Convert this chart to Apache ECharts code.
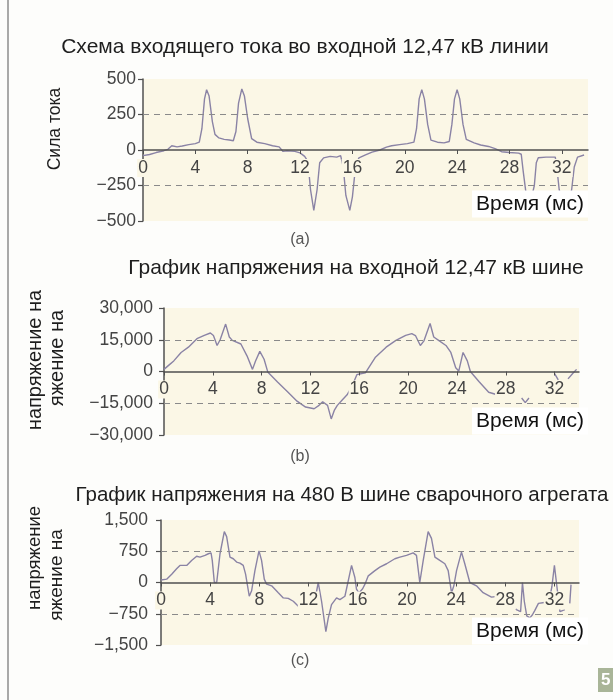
<!DOCTYPE html>
<html>
<head>
<meta charset="utf-8">
<script src="https://cdn.jsdelivr.net/npm/echarts@6/dist/echarts.min.js"></script>
<style>
  html, body { margin: 0; padding: 0; background: #fdfdfb; }
  #chart { width: 613px; height: 700px; }
</style>
</head>
<body>
<div id="chart"></div>
<script>
// Time ticks (ms) shared by all three panels
const timeTicks = [0, 4, 8, 12, 16, 20, 24, 28, 32];

// (a) Incoming line current, A  — [time ms, current]
const currentData = [
  [0,-40],[0.5,-32],[1.0,-18],[1.6,-5],[1.9,5],[2.2,30],[2.6,22],[3.0,28],[3.5,38],[4.0,45],
  [4.3,55],[4.5,150],[4.7,360],[4.86,425],[5.05,380],[5.3,200],[5.5,110],[5.8,85],[6.2,75],
  [6.6,70],[6.9,65],[7.1,130],[7.3,330],[7.55,430],[7.75,380],[8.0,220],[8.3,80],[8.7,55],
  [9.3,45],[9.9,30],[10.4,22],[10.7,-10],[11.0,-5],[11.6,-10],[12.0,-20],[12.35,-45],
  [12.6,-80],[12.8,-280],[13.05,-425],[13.3,-280],[13.5,-90],[13.8,-55],[14.3,-45],[14.8,-50],
  [15.1,-40],[15.3,-120],[15.5,-320],[15.8,-425],[16.0,-330],[16.25,-110],[16.5,-55],
  [17.0,-35],[17.5,-15],[18.1,0],[18.6,20],[19.0,30],[19.6,38],[20.2,45],[20.7,55],
  [20.9,150],[21.1,360],[21.3,425],[21.5,360],[21.75,180],[22.0,70],[22.5,55],[23.0,50],
  [23.4,60],[23.6,180],[23.8,360],[24.0,425],[24.2,360],[24.45,180],[24.7,75],[25.3,50],
  [25.8,35],[26.4,25],[26.9,10],[27.4,-12],[28.0,-18],[28.7,-22],[28.9,-30],[29.05,-150],
  [29.3,-330],[29.5,-420],[29.7,-330],[29.9,-250],[30.05,-90],[30.2,-55],[30.8,-50],
  [31.5,-50],[31.65,-150],[31.8,-280],[32.2,-420],[32.5,-380],[32.75,-280],[32.95,-120],
  [33.2,-50],[33.7,-35]
];

// (b) 12.47 kV bus voltage, V
const busVoltageData = [
  [0,1000],[0.4,3000],[0.8,5000],[1.4,9000],[2.0,11500],[2.7,15500],[3.3,17100],[3.8,18200],
  [4.05,17000],[4.35,12300],[4.6,15000],[5.05,22400],[5.35,16300],[5.6,14700],[6.3,13000],
  [6.8,7400],[7.25,1000],[7.5,5000],[7.85,9500],[8.2,5800],[8.5,-200],[9.3,-5000],
  [10.1,-9500],[10.9,-14000],[11.6,-16800],[12.3,-17600],[12.7,-16000],[13.0,-14300],
  [13.4,-16000],[13.7,-22400],[13.95,-18400],[14.2,-16000],[14.6,-13500],[15.0,-11000],
  [15.4,-7000],[15.8,-1500],[16.5,-600],[17.3,6600],[18.2,11500],[19.0,14700],[19.8,17100],
  [20.3,17900],[20.6,17000],[21.0,12300],[21.3,14500],[21.8,22700],[22.1,16300],[22.5,14700],
  [23.1,12300],[23.5,9000],[23.9,1800],[24.15,200],[24.5,9000],[24.85,5000],[25.1,0],
  [25.8,-4700],[26.6,-9800],[27.3,-11000],[27.5,null],
  [29.3,-12500],[29.6,-14700],[29.9,-12500],[30.1,null],
  [32.0,-1000],[32.3,-4000],[32.5,null],
  [33.1,-3500],[33.5,-800],[33.8,1000]
];

// (c) 480 V welder bus voltage, V
const weldVoltageData = [
  [0,60],[0.46,80],[0.87,200],[1.27,330],[1.54,410],[2.09,410],[2.49,530],[2.9,630],[3.17,610],
  [3.58,650],[3.85,690],[4.07,710],[4.17,530],[4.34,0],[4.53,0],[4.8,690],[5.15,1220],
  [5.34,1100],[5.61,610],[5.88,570],[6.15,490],[6.42,465],[6.69,410],[6.88,200],[7.18,-330],
  [7.37,-200],[7.64,285],[7.97,760],[8.18,530],[8.4,80],[8.59,-40],[9.0,-80],[9.54,-245],
  [9.95,-370],[10.35,-380],[10.76,-450],[11.17,-570],[11.57,-530],[12.3,-500],[12.6,-300],
  [12.79,0],[13.06,-450],[13.41,-1180],[13.6,-860],[13.87,-530],[14.28,-370],[14.55,-410],
  [14.96,-330],[15.23,40],[15.5,410],[15.77,120],[15.9,-160],[16.1,-250],[16.4,-150],
  [16.59,-40],[16.86,160],[17.4,285],[17.8,370],[18.35,450],[19.02,570],[19.43,610],
  [19.97,650],[20.51,710],[20.78,650],[21.05,0],[21.33,530],[21.73,1220],[22.0,1060],
  [22.28,610],[22.68,530],[23.09,450],[23.36,285],[23.63,-245],[23.82,-80],[24.04,285],
  [24.44,730],[24.71,450],[25.12,0],[25.66,-80],[26.2,-245],[26.88,-350],[27.43,-330],
  [28.2,-450],[28.9,-650],[29.25,-700],[29.4,0],[29.55,-450],[29.75,-800],[30.0,-850],
  [30.2,-780],[30.4,-675],[30.7,-500],[31.2,-480],[31.6,-400],[31.8,-90],[32.0,410],
  [32.2,-90],[32.45,-700],[32.85,-650],[33.0,null],[33.25,-500],[33.35,-50]
];

const panelTitles = [
  'Схема входящего тока во входной 12,47 кВ линии',
  'График напряжения на входной 12,47 кВ шине',
  'График напряжения на 480 В шине сварочного агрегата'
];
const panelTags = ['(a)', '(b)', '(c)'];
const timeName = 'Время (мс)';

const traceColor = '#8a83a5';
const axisColor = '#505050';
const labelColor = '#444';
const plotBg = '#fbf7e6';
const font = '"Liberation Sans", Arial, sans-serif';

function fmt(v, sep) {
  const s = Math.abs(v).toString();
  const body = sep ? s.replace(/\B(?=(\d{3})+(?!\d))/g, ',') : s;
  return v < 0 ? '\u2212' + body : body;
}

const grids = [
  { left: 143, top: 79, width: 445, height: 142 },
  { left: 164, top: 308, width: 415, height: 127 },
  { left: 161, top: 520, width: 418, height: 125 }
];
const yRanges = [
  { max: 500, interval: 250, sep: false, margin: 7 },
  { max: 30000, interval: 15000, sep: true, margin: 11 },
  { max: 1500, interval: 750, sep: true, margin: 13 }
];
const datasets = [currentData, busVoltageData, weldVoltageData];

const option = {
  backgroundColor: '#fdfdfb',
  animation: false,
  grid: grids.map(g => Object.assign({ show: true, backgroundColor: plotBg, borderWidth: 0 }, g)),
  // time axis drawn through the zero level (middle of each symmetric plot)
  xAxis: grids.map((g, i) => ({
    type: 'value', gridIndex: i, min: 0, max: 34, interval: 4, z: 5,
    position: 'bottom', offset: -g.height / 2,
    axisLine: { onZero: false, lineStyle: { color: axisColor, width: 1.5 } },
    axisTick: { show: true, customValues: timeTicks, length: 4, lineStyle: { color: axisColor } },
    axisLabel: {
      customValues: timeTicks, margin: 9, fontSize: 17.5, color: labelColor, fontFamily: font,
      backgroundColor: plotBg, padding: [0, 1]
    },
    splitLine: { show: false }
  })),
  yAxis: yRanges.map((r, i) => ({
    type: 'value', gridIndex: i, min: -r.max, max: r.max, interval: r.interval,
    axisLine: { show: true, onZero: false, lineStyle: { color: axisColor, width: 1.5 } },
    axisTick: { show: true, length: 5, lineStyle: { color: axisColor, width: 1.2 } },
    axisLabel: { margin: r.margin, fontSize: 17.5, color: labelColor, fontFamily: font,
      formatter: v => fmt(v, r.sep) },
    splitLine: { show: false }
  })),
  series: datasets.map((d, i) => ({
    type: 'line', xAxisIndex: i, yAxisIndex: i, data: d,
    showSymbol: false, connectNulls: false,
    lineStyle: { color: traceColor, width: 1.4 },
    markLine: {
      silent: true, symbol: 'none', label: { show: false },
      lineStyle: { color: '#8a8a8a', type: [6, 5], width: 1.2 },
      data: [{ yAxis: yRanges[i].interval }, { yAxis: -yRanges[i].interval }]
    }
  })),
  graphic: [
    // page edge rule
    { type: 'line', z: 50, shape: { x1: 8, y1: 0, x2: 8, y2: 700 }, style: { stroke: '#8c8c8c', lineWidth: 1.5 } },
    // titles
    { type: 'text', z: 50, style: { text: panelTitles[0], x: 305, y: 47, align: 'center', verticalAlign: 'middle', fontSize: 21, fill: '#1e1e1e', fontFamily: font } },
    { type: 'text', z: 50, style: { text: panelTitles[1], x: 356, y: 268, align: 'center', verticalAlign: 'middle', fontSize: 21, fill: '#1e1e1e', fontFamily: font } },
    { type: 'text', z: 50, style: { text: panelTitles[2], x: 342, y: 495, align: 'center', verticalAlign: 'middle', fontSize: 20.5, fill: '#1e1e1e', fontFamily: font } },
    // y-axis names
    { type: 'text', z: 50, x: 55, y: 129, rotation: Math.PI / 2, style: { text: 'Сила тока', align: 'center', verticalAlign: 'middle', fontSize: 17.5, fill: '#1e1e1e', fontFamily: font } },
    { type: 'text', z: 50, x: 35, y: 360, rotation: Math.PI / 2, style: { text: 'напряжение на', align: 'center', verticalAlign: 'middle', fontSize: 20, fill: '#1e1e1e', fontFamily: font } },
    { type: 'text', z: 50, x: 57, y: 358, rotation: Math.PI / 2, style: { text: 'яжение на', align: 'center', verticalAlign: 'middle', fontSize: 20, fill: '#1e1e1e', fontFamily: font } },
    { type: 'text', z: 50, x: 35, y: 558, rotation: Math.PI / 2, style: { text: 'напряжение', align: 'center', verticalAlign: 'middle', fontSize: 18.5, fill: '#1e1e1e', fontFamily: font } },
    { type: 'text', z: 50, x: 57, y: 575, rotation: Math.PI / 2, style: { text: 'яжение на', align: 'center', verticalAlign: 'middle', fontSize: 19, fill: '#1e1e1e', fontFamily: font } },
    // time-axis name boxes
    { type: 'text', z: 60, style: { text: timeName, x: 530, y: 204, align: 'center', verticalAlign: 'middle', fontSize: 21, fill: '#111', fontFamily: font, backgroundColor: '#ffffff', padding: [3, 4] } },
    { type: 'text', z: 60, style: { text: timeName, x: 530, y: 421, align: 'center', verticalAlign: 'middle', fontSize: 21, fill: '#111', fontFamily: font, backgroundColor: '#ffffff', padding: [3, 4] } },
    { type: 'text', z: 60, style: { text: timeName, x: 530, y: 631, align: 'center', verticalAlign: 'middle', fontSize: 21, fill: '#111', fontFamily: font, backgroundColor: '#ffffff', padding: [3, 4] } },
    // panel tags
    { type: 'text', z: 50, style: { text: panelTags[0], x: 300, y: 240, align: 'center', verticalAlign: 'middle', fontSize: 16, fill: '#555', fontFamily: font } },
    { type: 'text', z: 50, style: { text: panelTags[1], x: 300, y: 457, align: 'center', verticalAlign: 'middle', fontSize: 16, fill: '#555', fontFamily: font } },
    { type: 'text', z: 50, style: { text: panelTags[2], x: 300, y: 661, align: 'center', verticalAlign: 'middle', fontSize: 16, fill: '#555', fontFamily: font } },
    // page number tab
    { type: 'rect', z: 50, shape: { x: 598, y: 668, width: 15, height: 24 }, style: { fill: '#a9b598' } },
    { type: 'text', z: 51, style: { text: '5', x: 601, y: 680, verticalAlign: 'middle', fontSize: 17, fontWeight: 'bold', fill: '#ffffff', fontFamily: font } }
  ]
};

const chart = echarts.init(document.getElementById('chart'), null, { renderer: 'canvas' });
chart.setOption(option);
</script>
</body>
</html>
